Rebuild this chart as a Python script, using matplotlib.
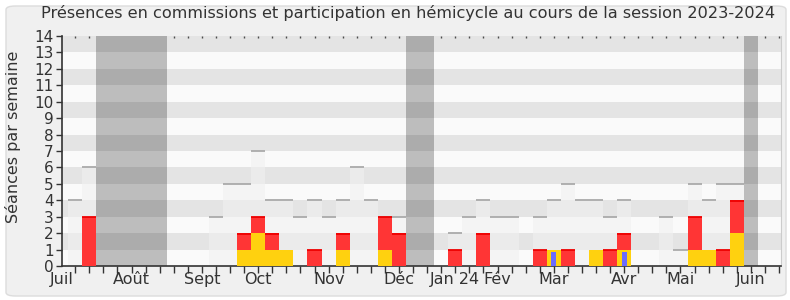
import matplotlib
matplotlib.use("Agg")
import matplotlib.pyplot as plt
from matplotlib.patches import FancyBboxPatch
import numpy as np

# une valeur par semaine (51 semaines affichées)
seances_total = [4, 6, 0, 0, 0, 0, 0, 0, 0, 0, 3, 5, 5, 7, 4, 4, 3, 4, 3, 4,
                 6, 4, 3, 3, 0, 0, 0, 2, 3, 4, 3, 3, 0, 3, 4, 5, 4, 4, 3, 4,
                 0, 0, 3, 1, 5, 4, 5, 5, 0, 0, 0]
presence_totale = [0, 3, 0, 0, 0, 0, 0, 0, 0, 0, 0, 0, 2, 3, 2, 1, 0, 1, 0, 2,
                   0, 0, 3, 2, 0, 0, 0, 1, 0, 2, 0, 0, 0, 1, 1, 1, 0, 1, 1, 2,
                   0, 0, 0, 0, 3, 1, 1, 4, 0, 0, 0]
presence_commission = [0, 0, 0, 0, 0, 0, 0, 0, 0, 0, 0, 0, 1, 2, 1, 1, 0, 0, 0, 1,
                       0, 0, 1, 0, 0, 0, 0, 0, 0, 0, 0, 0, 0, 0, 1, 0, 0, 1, 0, 1,
                       0, 0, 0, 0, 1, 1, 0, 2, 0, 0, 0]
questions = [0] * 34 + [1] + [0] * 4 + [1] + [0] * 11
vacances = [2, 3, 4, 5, 6, 24, 25, 48]

mois = ["Juil", "Août", "Sept", "Oct", "Nov", "Déc", "Jan 24", "Fév",
        "Mar", "Avr", "Mai", "Juin"]
mois_pos = [-0.44, 4.5, 9.5, 13.5, 18.5, 23.5, 27.5, 30.5, 34.5, 39.5, 43.5, 48.5]

titre = "Présences en commissions et participation en hémicycle au cours de la session 2023-2024"
police_axes = ["Liberation Sans Narrow", "DejaVu Sans"]

fig = plt.figure(figsize=(7.9, 3.0), dpi=100)
fig.patch.set_facecolor("white")
cadre = FancyBboxPatch((6 / 790, 4 / 300), 780 / 790, 290 / 300,
                       boxstyle="round,pad=0,rounding_size=0.012",
                       transform=fig.transFigure, facecolor="#f0f0f0",
                       edgecolor="#dcdcdc", linewidth=1.0, zorder=-5)
fig.patches.append(cadre)

ax = fig.add_axes([62 / 790, 34 / 300, 719 / 790, 230 / 300])
ax.set_facecolor("#fafafa")

n = len(seances_total)
x = np.arange(n)
xmin, xmax = -0.44, 50.64

# bandes horizontales
for k in range(1, 14, 2):
    ax.axhspan(k, k + 1, color="black", alpha=0.085, lw=0, zorder=1)

# vacances parlementaires
for v in vacances:
    ax.axvspan(v, v + 1, color="#bdbdbd", lw=0, zorder=0.5)

# séances totales
tot = np.array(seances_total)
ax.bar(x, tot, width=1, align="edge", color="#f0f0f0", alpha=0.6, lw=0, zorder=2)
m = tot > 0
ax.hlines(tot[m], x[m], x[m] + 1, color="#aaaaaa", lw=1.3, zorder=2.5)

# présences
pres = np.array(presence_totale)
com = np.array(presence_commission)
ax.bar(x, pres, width=1, align="edge", color="#ff3535", lw=0, zorder=3)
ax.bar(x, com, width=1, align="edge", color="#ffd10f", lw=0, zorder=3.5)
m2 = (pres > 0) & (pres > com)
ax.hlines(pres[m2] - 0.04, x[m2], x[m2] + 1, color="#ee0000", lw=1.3, zorder=3.6)

q = np.array(questions)
mq = q > 0
ax.bar(x[mq] + 0.5, q[mq] - 0.15, width=0.35, color="#6b6bff", lw=0, zorder=4)

ax.set_xlim(xmin, xmax)
ax.set_ylim(0, 14)
ax.set_yticks(range(15))

semaines = np.arange(0, 51) + 0.5
ax.set_xticks(semaines)
ax.set_xticklabels([])
ax.tick_params(axis="x", length=5, width=1, color="#333333", direction="out")
ax.tick_params(axis="y", length=4, width=1, color="#333333", labelsize=11,
               labelcolor="#333333", pad=2)

# petits points en haut
haut = ax.secondary_xaxis("top")
haut.set_xticks(semaines)
haut.set_xticklabels([])
haut.tick_params(length=1.5, width=1, direction="in", color="#555555")
haut.spines["top"].set_visible(False)

# mois
for lab, pos in zip(mois, mois_pos):
    ax.text(pos, -0.026, lab, transform=ax.get_xaxis_transform(), ha="center",
            va="top", fontsize=11.5, color="#333333", family=police_axes)

for s in ["left", "bottom"]:
    ax.spines[s].set_color("#333333")
    ax.spines[s].set_linewidth(1.2)
ax.spines["top"].set_visible(False)
ax.spines["right"].set_color("#cccccc")

for lab in ax.get_yticklabels():
    lab.set_fontfamily(police_axes)

ax.set_ylabel("Séances par semaine", fontsize=11.5, color="#333333")
ax.yaxis.set_label_coords(-0.057, 0.56)
fig.text(0.517, 0.957, titre, ha="center", va="center", fontsize=11.6,
         color="#333333")

fig.savefig("out.png", dpi=100, facecolor=fig.get_facecolor())
